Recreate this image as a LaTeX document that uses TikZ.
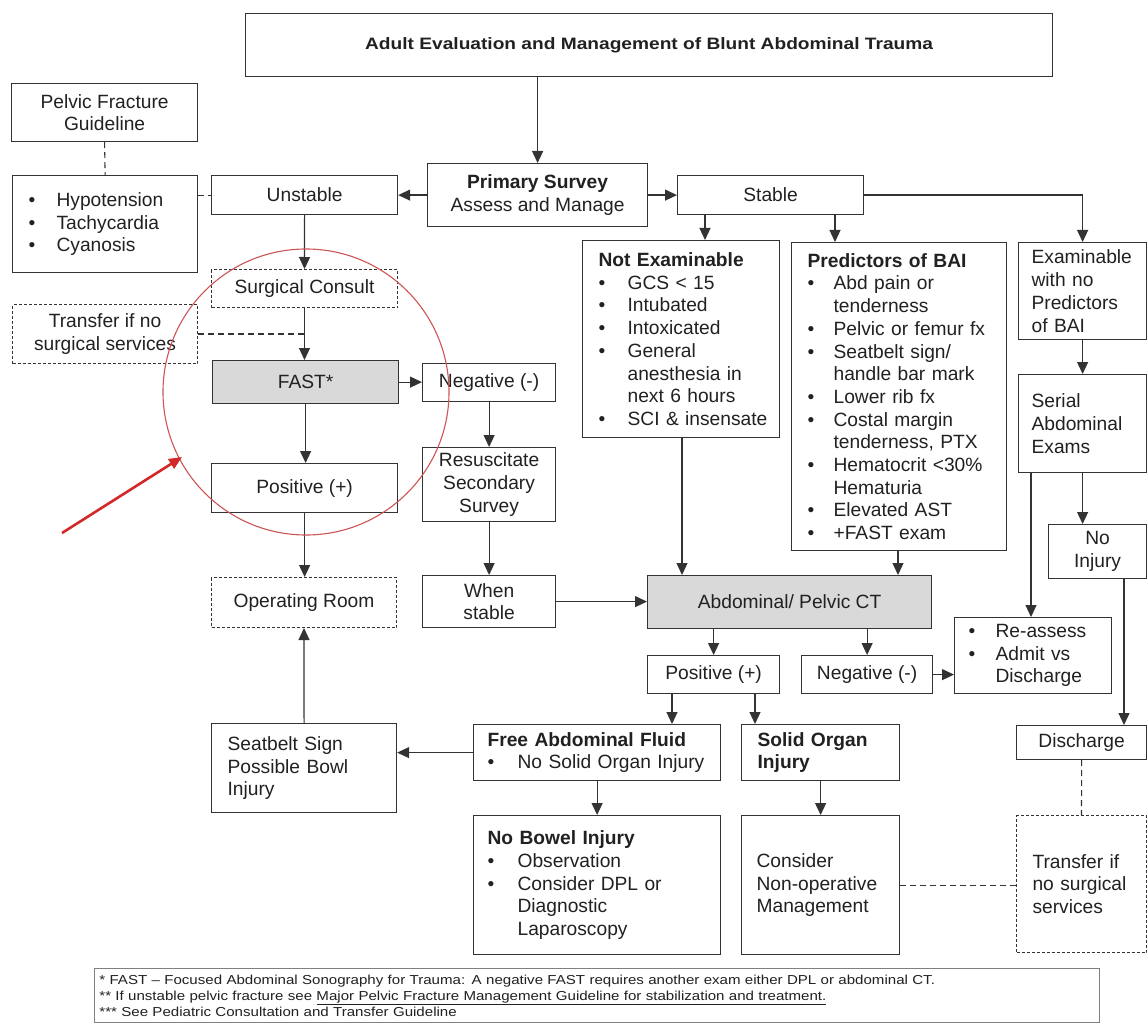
\documentclass[tikz,border=0pt]{standalone}
\usepackage{fontspec}
\setmainfont{Liberation Sans}
\usetikzlibrary{arrows.meta}
\definecolor{lineclr}{gray}{0.2}
\definecolor{txtclr}{gray}{0.13}
\definecolor{fillgray}{gray}{0.85}
\definecolor{ringred}{RGB}{205,85,85}
\definecolor{arrowred}{RGB}{210,40,40}
\newcommand\bi[2][27pt]{\mbox{\makebox[#1][l]{\textbullet}#2}}
\newcommand\cl[2][27pt]{\mbox{\hspace*{#1}#2}}
\tikzset{
  box/.style={draw=lineclr, line width=1.2pt, rectangle, inner sep=0pt, anchor=north west,
    align=center, text=txtclr, font=\fontsize{19.2}{22.7}\selectfont},
  dbox/.style={dash pattern=on 3pt off 2pt, line width=1pt},
  gbox/.style={fill=fillgray},
  conn/.style={draw=lineclr, line width=1.2pt, -{Triangle[length=12pt,width=11pt]}},
  dconn/.style={draw=lineclr, line width=1.1pt, dash pattern=on 6pt off 4pt},
}
\newcommand\bx[7][]{%
  \pgfmathsetmacro\bw{#5-#3}\pgfmathsetmacro\bh{#6-#4}%
  \node[box,minimum width=\bw pt,minimum height=\bh pt,#1] (#2) at (#3,#4) {#7};}
\newcommand\lbx[8][]{%
  \pgfmathsetmacro\bw{#6-#4}\pgfmathsetmacro\bh{#7-#5}\pgfmathsetmacro\tw{#6-#4-2*#3}%
  \node[box,minimum width=\bw pt,minimum height=\bh pt,text width=\tw pt,inner xsep=#3 pt,align=left,#1] (#2) at (#4,#5) {#8};}
\begin{document}
\begin{tikzpicture}[x=1pt,y=-1pt]
\useasboundingbox[fill=white] (0,0) rectangle (1147,1024);
% ---------- boxes ----------
\bx[font=\bfseries\fontsize{16.5}{20}\selectfont\addfontfeature{FakeStretch=1.16}]{title}{245}{13}{1052}{76}{Adult Evaluation and Management of Blunt Abdominal Trauma}
\bx{pelvic}{11}{83}{197}{141}{Pelvic Fracture\\Guideline}
\lbx{hypo}{16}{12}{175}{197}{272}{\bi[28pt]{Hypotension}\\\bi[28pt]{Tachycardia}\\\bi[28pt]{Cyanosis}}
\bx{unstable}{211}{175}{397}{214}{Unstable}
\bx[dbox]{surg}{211}{269}{397}{307}{Surgical Consult}
\bx[dbox]{transL}{12}{304}{197}{363}{Transfer if no\\surgical services}
\bx[gbox]{fast}{212}{360}{398}{403}{FAST*}
\bx{posL}{211}{463}{397}{512}{Positive (+)}
\bx[dbox]{oroom}{211}{577}{396}{627}{Operating Room}
\lbx{seat}{16}{211}{723}{396}{812}{Seatbelt Sign\\Possible Bowl\\Injury}
\bx{neg}{422}{363}{555}{401}{Negative (-)}
\bx{resus}{422}{447}{555}{521}{Resuscitate\\Secondary\\Survey}
\bx{when}{422}{575}{555}{627}{When\\stable}
\bx{primary}{427}{163}{647}{226}{\textbf{Primary Survey}\\Assess and Manage}
\bx{stable}{677}{175}{863}{214}{Stable}
\lbx{notex}{16}{582}{240}{779}{437}{\textbf{Not Examinable}\\\bi[29pt]{GCS < 15}\\\bi[29pt]{Intubated}\\\bi[29pt]{Intoxicated}\\\bi[29pt]{General}\\\cl[29pt]{anesthesia in}\\\cl[29pt]{next 6 hours}\\\bi[29pt]{SCI \& insensate}}
\lbx{pred}{16}{791}{242}{1006}{550}{\textbf{Predictors of BAI}\\\bi[26pt]{Abd pain or}\\\cl[26pt]{tenderness}\\\bi[26pt]{Pelvic or femur fx}\\\bi[26pt]{Seatbelt sign/}\\\cl[26pt]{handle bar mark}\\\bi[26pt]{Lower rib fx}\\\bi[26pt]{Costal margin}\\\cl[26pt]{tenderness, PTX}\\\bi[26pt]{Hematocrit <30\%}\\\cl[26pt]{Hematuria}\\\bi[26pt]{Elevated AST}\\\bi[26pt]{+FAST exam}}
\lbx{exam}{13}{1018}{242}{1146}{339}{Examinable\\with no\\Predictors\\of BAI}
\lbx{serial}{13}{1018}{374}{1146}{472}{Serial\\Abdominal\\Exams}
\bx{noinj}{1048}{524}{1146}{578}{No\\Injury}
\bx[gbox]{ct}{647}{575}{931}{628}{Abdominal/ Pelvic CT}
\bx{pos2}{647}{655}{779}{693}{Positive (+)}
\bx{neg2}{801}{655}{932}{693}{Negative (-)}
\lbx{reass}{14}{954}{617}{1111}{693}{\bi{Re-assess}\\\bi{Admit vs}\\\cl{Discharge}}
\bx{disch}{1016}{725}{1146}{759}{Discharge}
\lbx{free}{14}{473}{724}{720}{780}{\textbf{Free Abdominal Fluid}\\\bi[30pt]{No Solid Organ Injury}}
\lbx{solid}{16}{741}{724}{899}{780}{\textbf{Solid Organ}\\\textbf{Injury}}
\lbx{nobowel}{14}{473}{815}{720}{954}{\textbf{No Bowel Injury}\\\bi[30pt]{Observation}\\\bi[30pt]{Consider DPL or}\\\cl[30pt]{Diagnostic}\\\cl[30pt]{Laparoscopy}}
\lbx{consider}{15}{741}{815}{899}{954}{Consider\\Non-operative\\Management}
\lbx[dbox]{transR}{16}{1016}{815}{1146}{952}{Transfer if\\no surgical\\services}
\lbx[draw=black!50,line width=0.8pt,font=\fontsize{13}{16}\selectfont\addfontfeature{FakeStretch=1.16}]{foot}{5}{94}{968}{1099}{1022}{%
{*} FAST -- Focused Abdominal Sonography for Trauma: A negative FAST requires another exam either DPL or abdominal CT.\\
{**} If unstable pelvic fracture see \underline{Major Pelvic Fracture Management Guideline for stabilization and treatment.}\\
{***} See Pediatric Consultation and Transfer Guideline}
% ---------- connectors ----------
\draw[conn] (title.south -| primary.north) -- (primary.north);
\draw[conn] (primary.west) -- (unstable.east);
\draw[conn] (primary.east) -- (stable.west);
\draw[dconn] (pelvic.south) -- (hypo.north);
\draw[dconn] (hypo.east |- unstable.west) -- (unstable.west);
\draw[conn] (unstable.south) -- (surg.north);
\draw[conn] (surg.south) -- (surg.south |- fast.north);
\draw[dconn] (transL.east) -- (transL.east -| surg.south);
\draw[conn] (fast.east) -- (fast.east -| neg.west);
\draw[conn] (fast.south) -- (fast.south |- posL.north);
\draw[conn] (posL.south) -- (posL.south |- oroom.north);
\draw[conn] (seat.north) -- (oroom.south);
\draw[conn] (neg.south) -- (resus.north);
\draw[conn] (resus.south) -- (when.north);
\draw[conn] (when.east) -- (when.east -| ct.west);
\draw[conn] (705,0 |- stable.south) -- (705,0 |- notex.north);
\draw[conn] (835,0 |- stable.south) -- (835,0 |- pred.north);
\draw[conn] (stable.east) -| (exam.north);
\draw[conn] (682,0 |- notex.south) -- (682,0 |- ct.north);
\draw[conn] (898,0 |- pred.south) -- (898,0 |- ct.north);
\draw[conn] (exam.south) -- (serial.north);
\draw[conn] (serial.south) -- (serial.south |- noinj.north);
\draw[conn] (1031,0 |- serial.south) -- (1031,0 |- reass.north);
\draw[conn] (1124,0 |- noinj.south) -- (1124,0 |- disch.north);
\draw[conn] (pos2.north |- ct.south) -- (pos2.north);
\draw[conn] (neg2.north |- ct.south) -- (neg2.north);
\draw[conn] (neg2.east) -- (neg2.east -| reass.west);
\draw[conn] (672,0 |- pos2.south) -- (672,0 |- free.north);
\draw[conn] (755,0 |- pos2.south) -- (755,0 |- solid.north);
\draw[conn] (free.west) -- (free.west -| seat.east);
\draw[conn] (free.south) -- (nobowel.north);
\draw[conn] (solid.south) -- (consider.north);
\draw[dconn] (consider.east) -- (consider.east -| transR.west);
\draw[dconn] (disch.south) -- (transR.north);
% ---------- red annotation ----------
\node[circle, draw=ringred, line width=1.1pt, minimum size=286pt, inner sep=0pt] (ring) at (306,392) {};
\coordinate (rtail) at (62,533);
\coordinate (rhead) at (182,457);
\draw[draw=arrowred, line width=2.6pt, -{Triangle[length=13pt,width=11pt]}] (rtail) -- (rhead);
\end{tikzpicture}
\end{document}
